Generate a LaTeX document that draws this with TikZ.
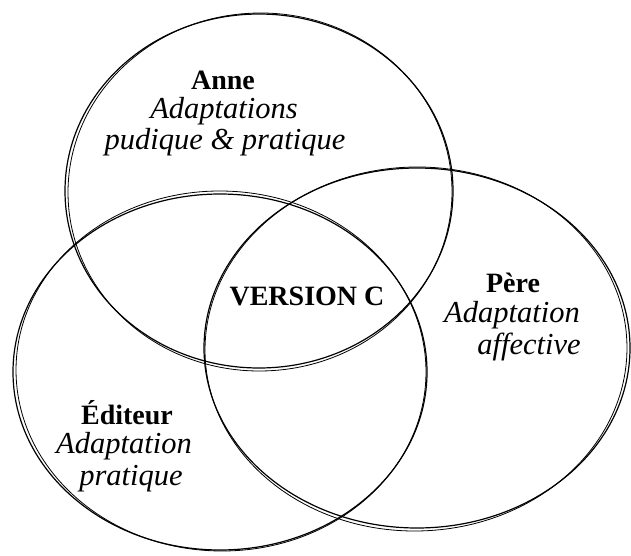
\documentclass[tikz,border=0pt]{standalone}
\usepackage{fontspec}
\setmainfont{Liberation Serif}
\begin{document}
\begin{tikzpicture}[x=1pt,y=-1pt,
  sketch/.style={line width=1.2pt,black},
  sketchb/.style={line width=0.8pt,black},
  titlebf/.style={font=\fontsize{28}{30}\selectfont\bfseries,inner sep=0pt,anchor=center},
  subit/.style={font=\fontsize{30.5}{32}\selectfont\itshape,inner sep=0pt,anchor=center}]
\useasboundingbox (0,0) rectangle (631,556);
% Anne
\draw[sketch] (259,191) ellipse [x radius=194, y radius=177];
\draw[sketchb] (260,192) ellipse [x radius=192, y radius=179, rotate=1.2];
% Editeur
\draw[sketch] (220,372) ellipse [x radius=207, y radius=178];
\draw[sketchb] (221,371) ellipse [x radius=205, y radius=180, rotate=-1.2];
% Pere
\draw[sketch] (417,348) ellipse [x radius=213, y radius=180];
\draw[sketchb] (416,349) ellipse [x radius=211, y radius=182, rotate=1.2];
% texts
\node[titlebf] (anne) at (223,80) {Anne};
\node[subit] (anne1) at (224,111) {Adaptations};
\node[subit] (anne2) at (225,142) {pudique \& pratique};
\node[titlebf] (ver) at (307,296) {VERSION C};
\node[titlebf] (pere) at (513,283) {Père};
\node[subit] (pere1) at (512,315) {Adaptation};
\node[subit] (pere2) at (529,347) {affective};
\node[titlebf] (edi) at (127,413) {Éditeur};
\node[subit] (edi1) at (124,446) {Adaptation};
\node[subit] (edi2) at (131,479) {pratique};
\end{tikzpicture}
\end{document}
